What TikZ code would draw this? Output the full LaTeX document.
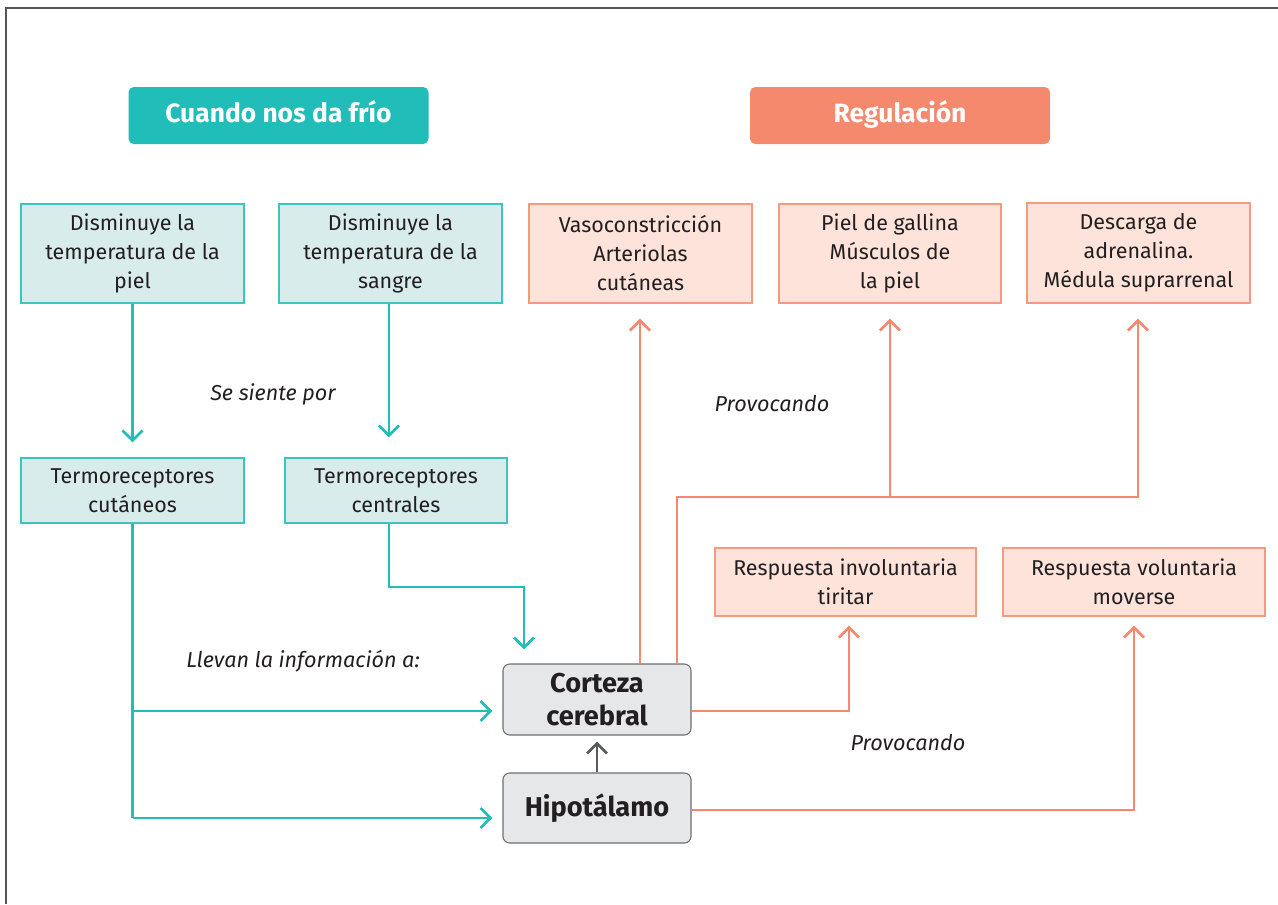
\documentclass[tikz,border=0pt]{standalone}
\usepackage{fontspec}
\setmainfont{Fira Sans}
\usetikzlibrary{arrows.meta}
\definecolor{tealH}{HTML}{20BDB9}
\definecolor{tealF}{HTML}{D8ECEC}
\definecolor{tealD}{HTML}{3CC4BF}
\definecolor{salH}{HTML}{F4896E}
\definecolor{salF}{HTML}{FDE3DA}
\definecolor{salD}{HTML}{F39A80}
\definecolor{greyF}{HTML}{E6E7E8}
\definecolor{greyD}{HTML}{6D6E70}
\definecolor{greyA}{HTML}{58595B}
\definecolor{txt}{HTML}{231F20}
\definecolor{framec}{HTML}{555555}
\tikzset{
  header/.style={rounded corners=4pt, inner sep=0pt, text=white, font=\fontsize{19.8}{22}\selectfont\bfseries, minimum width={300*0.75pt}, minimum height={57*0.75pt}, text height=10pt, text depth=0pt},
  tbox/.style={draw=tealD, fill=tealF, line width=1pt, inner sep=0pt, align=center, text=txt, font=\fontsize{16.1}{21.75}\selectfont},
  sbox/.style={draw=salD, fill=salF, line width=1pt, inner sep=0pt, align=center, text=txt, font=\fontsize{16.1}{21.75}\selectfont},
  gbox/.style={draw=greyD, fill=greyF, line width=0.8pt, rounded corners=5pt, inner sep=0pt, align=center, text=txt, font=\fontsize{20.4}{24.75}\selectfont\bfseries, minimum width={188*0.75pt}},
  lab/.style={text=txt, font=\fontsize{16.2}{18}\selectfont\itshape, inner sep=0pt},
  tarrow/.style={draw=tealH, line width=2pt, -{Straight Barb[length=7.5pt,width=15pt]}},
  sarrow/.style={draw=salH, line width=2pt, -{Straight Barb[length=7.5pt,width=15pt]}},
  garrow/.style={draw=greyA, line width=2pt, -{Straight Barb[length=7.5pt,width=15pt]}},
}
\begin{document}
\begin{tikzpicture}[x=0.75pt, y=-0.75pt]
\useasboundingbox (0,0) rectangle (1278,904);
\draw[framec, line width=1.3pt] (6,904) -- (6,8) -- (1278,8);

% headers
\node[header, fill=tealH] (h1) at (278.5,115.5) {Cuando nos da frío};
\node[header, fill=salH] (h2) at (900,115.5) {Regulación};

% top boxes
\node[tbox, minimum width={223*0.75pt}, minimum height={99*0.75pt}] (b1) at (132.5,253.5) {Disminuye la\\temperatura de la\\piel};
\node[tbox, minimum width={223*0.75pt}, minimum height={99*0.75pt}] (b2) at (390.5,253.5) {Disminuye la\\temperatura de la\\sangre};
\node[sbox, minimum width={223*0.75pt}, minimum height={99*0.75pt}] (r1) at (640.5,253.5) {Vasoconstricción\\Arteriolas\\cutáneas};
\node[sbox, minimum width={222*0.75pt}, minimum height={99*0.75pt}] (r2) at (890,253.5) {Piel de gallina\\Músculos de\\la piel};
\node[sbox, minimum width={223*0.75pt}, minimum height={100*0.75pt}] (r3) at (1138.5,253) {Descarga de\\adrenalina.\\Médula suprarrenal};

% receptors
\node[tbox, minimum width={223*0.75pt}, minimum height={65*0.75pt}] (t1) at (132.5,490.5) {Termoreceptores\\cutáneos};
\node[tbox, minimum width={222*0.75pt}, minimum height={65*0.75pt}] (t2) at (396,490.5) {Termoreceptores\\centrales};

% responses
\node[sbox, minimum width={261*0.75pt}, minimum height={68*0.75pt}] (ri) at (845.5,582) {Respuesta involuntaria\\tiritar};
\node[sbox, minimum width={262*0.75pt}, minimum height={68*0.75pt}] (rv) at (1134,582) {Respuesta voluntaria\\moverse};

% grey boxes
\node[gbox, minimum height={71*0.75pt}] (cc) at (597,699.5) {Corteza\\cerebral};
\node[gbox, minimum height={70*0.75pt}] (hi) at (597,808) {Hipotálamo};

% labels
\node[lab] (l1) at (273,394) {Se siente por};
\node[lab] (l2) at (303,661) {Llevan la información a:};
\node[lab] (l3) at (772,404) {Provocando};
\node[lab] (l4) at (908,743) {Provocando};

% coordinates
\coordinate (k1) at (524,587);
\coordinate (k2) at (132.5,711);
\coordinate (k3) at (132.5,818);
\coordinate (k4) at (677,497);
\coordinate (k5) at (1138,497);
\coordinate (k6) at (849,711);
\coordinate (k7) at (1134,810);

% teal arrows
\draw[tarrow, shorten >={15*0.75pt}] (b1.south) -- (t1.north);
\draw[tarrow, shorten >={20*0.75pt}] ([xshift={-1.5*0.75pt}]b2.south) -- ([xshift={-1.5*0.75pt}]b2.south |- t2.north);
\draw[tarrow, shorten >={14*0.75pt}] ([xshift={-7*0.75pt}]t2.south) |- (k1) -- (k1 |- cc.north);
\draw[tealH, line width=2pt] (t1.south) -- (k3);
\draw[tarrow, shorten >={10*0.75pt}] (k2) -- (k2 -| cc.west);
\draw[tarrow, shorten >={10*0.75pt}] (k3) -- (k3 -| hi.west);

% grey arrow
\draw[garrow, shorten >={6*0.75pt}] (hi.north) -- (cc.south);

% salmon arrows
\draw[sarrow, shorten >={15*0.75pt}] ([xshift={43*0.75pt}]cc.north) -- ([xshift={43*0.75pt}]cc.north |- r1.south);
\draw[sarrow, shorten >={15*0.75pt}] (k4 |- cc.north) -- (k4) -- (k5) -- (k5 |- r3.south);
\draw[sarrow, shorten >={15*0.75pt}] (k4 -| r2.south) -- (r2.south);
\draw[sarrow, shorten >={9*0.75pt}] (k6 -| cc.east) -- (k6) -- (k6 |- ri.south);
\draw[sarrow, shorten >={9*0.75pt}] (k7 -| hi.east) -- (k7) -- (k7 |- rv.south);
\end{tikzpicture}
\end{document}
